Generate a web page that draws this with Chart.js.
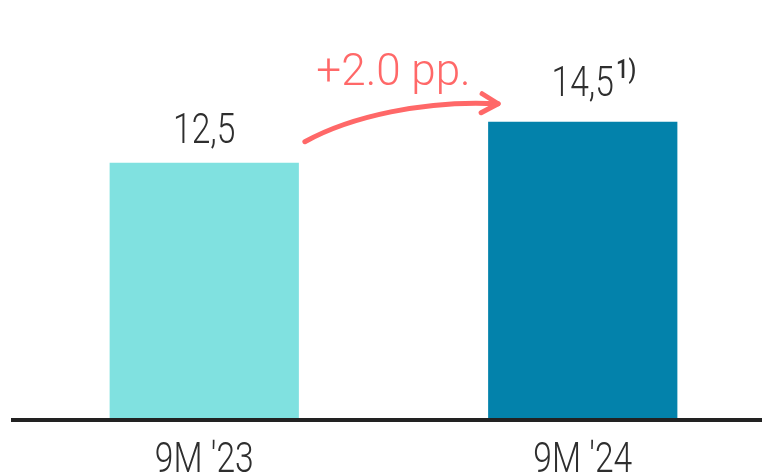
<!DOCTYPE html>
<html>
<head>
<meta charset="utf-8">
<script src="https://cdn.jsdelivr.net/npm/chart.js@4"></script>
<style>
  html, body { margin: 0; padding: 0; background: #fff; overflow: hidden; }
  #wrap { width: 776px; height: 476px; }
</style>
</head>
<body>
<div id="wrap"><canvas id="chartMarge"></canvas></div>
<script>
const periods = ['9M \'23', '9M \'24'];
const margin = [12.5, 14.5];
const valueLabels = ['12,5', '14,5'];
const footnotes = ['', '1)'];
const deltaLabel = '+2.0 pp.';

const barColors = ['#80E1E0', '#0382AB'];
const accent = '#FF6868';
const textColor = '#2E2E2E';

// labels, values and the arrow between the two bars
const chartText = {
  id: 'chartText',
  afterDraw(chart) {
    const ctx = chart.ctx;
    const x = chart.scales.x;
    const bars = chart.getDatasetMeta(0).data;
    const lift = [20, 26];

    ctx.save();
    ctx.fillStyle = textColor;
    ctx.textBaseline = 'alphabetic';
    ctx.textAlign = 'center';

    // narrow text: squeeze horizontally
    function narrow(txt, cx, y, size, weight) {
      ctx.save();
      ctx.translate(cx, y);
      ctx.scale(0.8, 1);
      ctx.font = weight + ' ' + size + 'px Roboto';
      ctx.fillText(txt, 0, 0);
      ctx.restore();
    }

    periods.forEach((p, i) => {
      narrow(p, x.getPixelForValue(i), 472, 42, 300);
    });

    bars.forEach((bar, i) => {
      const y = bar.y - lift[i];
      narrow(valueLabels[i], bar.x, y, 42, 300);
      if (footnotes[i]) {
        ctx.font = '300 42px Roboto';
        const w = ctx.measureText(valueLabels[i]).width * 0.8;
        ctx.save();
        ctx.translate(bar.x + w / 2 + 2, y - 18);
        ctx.scale(0.85, 1);
        ctx.font = '500 26px Roboto';
        ctx.textAlign = 'left';
        ctx.fillText(footnotes[i], 0, 0);
        ctx.restore();
      }
    });

    // curved arrow from first bar to second
    const a = bars[0], b = bars[1];
    const x0 = a.x + a.width / 2 + 6, y0 = a.y - 21;
    const x1 = b.x - b.width / 2 + 10, y1 = b.y - 18;
    ctx.strokeStyle = accent;
    ctx.lineWidth = 5;
    ctx.lineCap = 'round';
    ctx.lineJoin = 'round';
    ctx.beginPath();
    ctx.moveTo(x0, y0);
    ctx.bezierCurveTo(x0 + 45, y0 - 25, x0 + 120, y1 - 4, x1, y1);
    ctx.stroke();
    ctx.beginPath();
    ctx.moveTo(x1 - 16, y1 - 10);
    ctx.lineTo(x1, y1);
    ctx.lineTo(x1 - 17, y1 + 9);
    ctx.stroke();

    ctx.fillStyle = accent;
    ctx.font = '300 44px Roboto';
    ctx.textAlign = 'center';
    ctx.fillText(deltaLabel, (x0 + x1) / 2 - 8, 85);
    ctx.restore();
  }
};

const ctx = document.getElementById('chartMarge').getContext('2d');
new Chart(ctx, {
  type: 'bar',
  data: {
    labels: periods,
    datasets: [{
      data: margin,
      backgroundColor: barColors,
      borderWidth: 0,
      categoryPercentage: 1,
      barPercentage: 0.5
    }]
  },
  options: {
    responsive: true,
    maintainAspectRatio: false,
    animation: false,
    events: [],
    layout: { padding: { top: 9, bottom: 57, left: 15, right: 4 } },
    plugins: {
      legend: { display: false },
      tooltip: { enabled: false }
    },
    scales: {
      x: {
        display: false
      },
      y: {
        display: false,
        min: 0,
        max: 20
      }
    }
  },
  plugins: [chartText, {
    id: 'baseline',
    afterDatasetsDraw(chart) {
      const c = chart.ctx, area = chart.chartArea;
      c.save();
      c.strokeStyle = '#222';
      c.lineWidth = 4;
      c.beginPath();
      c.moveTo(area.left - 4, area.bottom + 1);
      c.lineTo(area.right, area.bottom + 1);
      c.stroke();
      c.restore();
    }
  }]
});
</script>
</body>
</html>
